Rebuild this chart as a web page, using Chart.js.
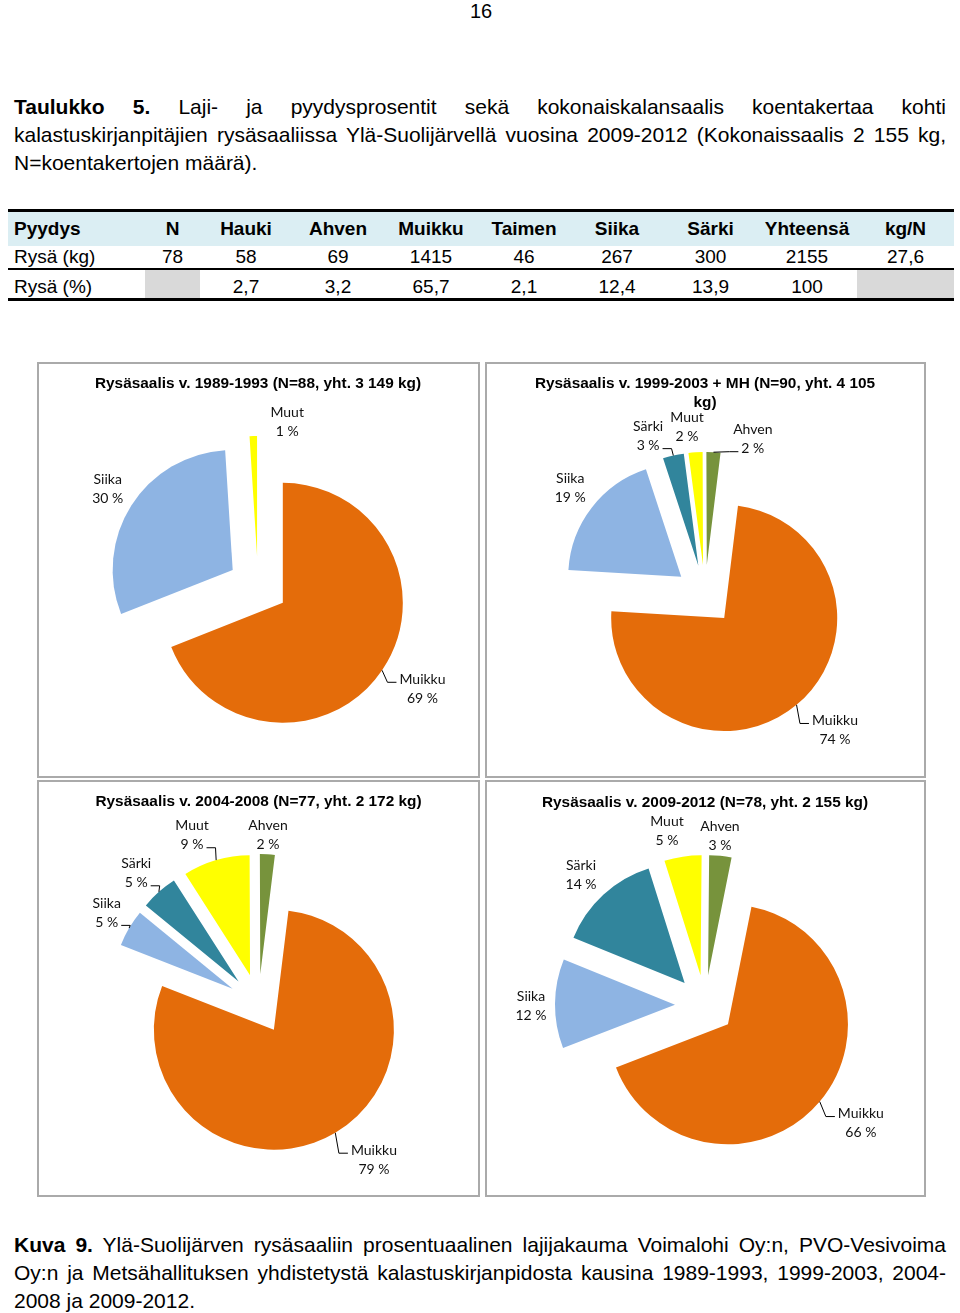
<!DOCTYPE html>
<html lang="fi">
<head>
<meta charset="utf-8">
<title>Kuva 9</title>
<script src="https://cdn.jsdelivr.net/npm/chart.js@4.4.1/dist/chart.umd.min.js"></script>
<style>
  body { margin: 0; background: #fff; }
  #page { position: relative; width: 960px; height: 1313px; overflow: hidden; font-family: "Liberation Sans", Arial, sans-serif; color: #000; }
  .pnum { position: absolute; left: 0; top: 0; width: 962px; text-align: center; font-size: 20px; line-height: 22px; }
  .txt { position: absolute; left: 14px; width: 932px; font-size: 21px; line-height: 28px; text-align: justify; }
  .rule { position: absolute; left: 8px; width: 946px; background: #000; }
  .row { position: absolute; left: 8px; width: 946px; display: flex; font-size: 19px; }
  .row div { text-align: center; box-sizing: border-box; }
  .row div:first-child { text-align: left; padding-left: 6px; }
  .head { background: #dbeef3; font-weight: bold; }
  .grey { background: #d9d9d9; }
  .panel { position: absolute; border: 2px solid #aaa; box-sizing: border-box; }
  canvas { position: absolute; }
</style>
</head>
<body>
<div id="page">
  <div class="pnum">16</div>
  <div class="txt" style="top:93px"><b>Taulukko 5.</b> Laji- ja pyydysprosentit sekä kokonaiskalansaalis koentakertaa kohti kalastuskirjanpitäjien rysäsaaliissa Ylä-Suolijärvellä vuosina 2009-2012 (Kokonaissaalis 2 155 kg, N=koentakertojen määrä).</div>
  <div id="table"></div>

  <div class="panel" style="left:37px;top:362px;width:443px;height:416px"></div>
  <div class="panel" style="left:485px;top:362px;width:441px;height:416px"></div>
  <div class="panel" style="left:37px;top:780px;width:443px;height:417px"></div>
  <div class="panel" style="left:485px;top:780px;width:441px;height:417px"></div>
  <canvas id="c1" width="439" height="412" style="left:39px;top:364px"></canvas>
  <canvas id="c2" width="437" height="412" style="left:487px;top:364px"></canvas>
  <canvas id="c3" width="439" height="413" style="left:39px;top:782px"></canvas>
  <canvas id="c4" width="437" height="413" style="left:487px;top:782px"></canvas>

  <div class="txt" style="top:1231px"><b>Kuva 9.</b> Ylä-Suolijärven rysäsaaliin prosentuaalinen lajijakauma Voimalohi Oy:n, PVO-Vesivoima Oy:n ja Metsähallituksen yhdistetystä kalastuskirjanpidosta kausina 1989-1993, 1999-2003, 2004-2008 ja 2009-2012.</div>
</div>

<script>
// taulukko 5
const tableHead = ['Pyydys', 'N', 'Hauki', 'Ahven', 'Muikku', 'Taimen', 'Siika', 'Särki', 'Yhteensä', 'kg/N'];
const rowKg = ['Rysä (kg)', '78', '58', '69', '1415', '46', '267', '300', '2155', '27,6'];
const rowPct = ['Rysä (%)', '', '2,7', '3,2', '65,7', '2,1', '12,4', '13,9', '100', ''];

// piirakat
const categories = ['Muikku', 'Siika', 'Särki', 'Muut', 'Ahven'];
const share1989 = [69, 30, 0, 1, 0];
const share1999 = [74, 19, 3, 2, 2];
const share2004 = [79, 5, 5, 9, 2];
const share2009 = [66, 12, 14, 5, 3];

const title1989 = 'Rysäsaalis v. 1989-1993 (N=88, yht. 3 149 kg)';
const title1999 = ['Rysäsaalis v. 1999-2003 + MH (N=90, yht. 4 105', 'kg)'];
const title2004 = 'Rysäsaalis v. 2004-2008 (N=77, yht. 2 172 kg)';
const title2009 = 'Rysäsaalis v. 2009-2012 (N=78, yht. 2 155 kg)';

const sliceColors = ['#e46c0a', '#8eb4e3', '#31859c', '#ffff00', '#77933c'];

// --- table ---
const colW = [137, 55, 92, 92, 94, 92, 94, 93, 100, 97];
const tbl = document.getElementById('table');
function addRule(top, h) {
  const r = document.createElement('div');
  r.className = 'rule';
  r.style.top = top + 'px';
  r.style.height = h + 'px';
  tbl.appendChild(r);
}
function addRow(cells, top, h, cls, pt) {
  const row = document.createElement('div');
  row.className = 'row' + (cls ? ' ' + cls : '');
  row.style.top = top + 'px';
  row.style.height = h + 'px';
  cells.forEach((c, i) => {
    const d = document.createElement('div');
    d.style.width = colW[i] + 'px';
    d.style.height = h + 'px';
    d.style.lineHeight = (h - pt) + 'px';
    d.style.paddingTop = pt + 'px';
    if (cls !== 'head' && c === '' && i > 0) d.className = 'grey';
    d.textContent = c;
    row.appendChild(d);
  });
  tbl.appendChild(row);
}
addRule(209, 3);
addRow(tableHead, 212, 34, 'head', 0);
addRow(rowKg, 246, 22, '', 0);
addRule(268, 2);
addRow(rowPct, 270, 28, '', 6);
addRule(298, 3);

// --- pies ---
const explodePlugin = {
  id: 'explode',
  afterDatasetUpdate(chart, args, opts) {
    const d = opts.distance || 0;
    args.meta.data.forEach(arc => {
      const mid = (arc.startAngle + arc.endAngle) / 2;
      arc.x += Math.cos(mid) * d;
      arc.y += Math.sin(mid) * d;
    });
  }
};

const pieLabels = {
  id: 'pieLabels',
  afterDatasetsDraw(chart, args, opts) {
    const ctx = chart.ctx;
    const meta = chart.getDatasetMeta(0);
    const values = chart.data.datasets[0].data;
    const half = opts.lineGap / 2;
    ctx.save();
    ctx.font = '14px Lato, "Open Sans", sans-serif';
    ctx.fillStyle = '#111';
    ctx.strokeStyle = '#000';
    ctx.lineWidth = 1;
    ctx.textAlign = 'center';
    ctx.textBaseline = 'middle';
    meta.data.forEach((arc, i) => {
      if (!values[i]) return;
      const mid = (arc.startAngle + arc.endAngle) / 2;
      const a = mid + opts.turn[i] * Math.PI / 180;
      const cx = arc.x + Math.cos(a) * opts.dist[i];
      const cy = arc.y + Math.sin(a) * opts.dist[i];
      const lines = [chart.data.labels[i], values[i] + ' %'];
      ctx.fillText(lines[0], cx, cy - half);
      ctx.fillText(lines[1], cx, cy + half);
      if (opts.leader[i]) {
        const px = arc.x + Math.cos(mid) * arc.outerRadius;
        const py = arc.y + Math.sin(mid) * arc.outerRadius;
        const li = py < cy ? 0 : 1;
        const qy = cy + (li ? half : -half) + 3;
        const w = ctx.measureText(lines[li]).width;
        const side = px < cx ? -1 : 1;
        const qx = cx + side * (w / 2 + 3);
        ctx.beginPath();
        ctx.moveTo(px, py);
        ctx.lineTo(qx + side * 9, qy);
        ctx.lineTo(qx, qy);
        ctx.stroke();
      }
    });
    ctx.restore();
  }
};

// the chart area is as wide as the canvas, its height sets the radius
const panels = [
  { id: 'c1', values: share1989, title: title1989, rotation: 0,
    pad: { left: 0, right: 1, bottom: 70 }, titlePad: { top: 11, bottom: 72.5 },
    labelDist: [164, 149, 0, 137, 0], labelTurn: [-2.6, 0.6, 0, 14.5, 0], leader: [1, 0, 0, 0, 0] },
  { id: 'c2', values: share1999, title: title1999, rotation: 7,
    pad: { left: 0, right: 1, bottom: 68 }, titlePad: { top: 11, bottom: 70 },
    labelDist: [157.5, 142, 139, 139, 134], labelTurn: [-4.9, 1, -8.4, -2.8, 16.7], leader: [1, 0, 1, 0, 1] },
  { id: 'c3', values: share2004, title: title2004, rotation: 7,
    pad: { left: 0, right: 0, bottom: 71 }, titlePad: { top: 11, bottom: 72.5 },
    labelDist: [164, 147, 149, 151.5, 139], labelTurn: [-6.8, 0.7, -1.8, -6.1, -0.2], leader: [1, 1, 1, 1, 0] },
  { id: 'c4', values: share2009, title: title2009, rotation: 11.3,
    pad: { left: 0, right: 1, bottom: 70 }, titlePad: { top: 12, bottom: 72.5 },
    labelDist: [165.6, 144, 149.7, 148.2, 139.5], labelTurn: [-3.5, -1, -1.1, -4.6, -1], leader: [1, 0, 0, 0, 0] }
];

panels.forEach(p => {
  new Chart(document.getElementById(p.id), {
    type: 'pie',
    data: {
      labels: categories,
      datasets: [{ data: p.values, backgroundColor: sliceColors, borderWidth: 0, clip: false }]
    },
    options: {
      responsive: false,
      animation: false,
      events: [],
      rotation: p.rotation,
      layout: { padding: { top: 0, left: p.pad.left, right: p.pad.right, bottom: p.pad.bottom } },
      plugins: {
        legend: { display: false },
        tooltip: { enabled: false },
        title: {
          display: true,
          text: p.title,
          color: '#000',
          font: { family: '"Liberation Sans", Arial, sans-serif', size: 15.4, weight: 'bold', lineHeight: 1.2 },
          padding: p.titlePad
        },
        explode: { distance: 30 },
        pieLabels: { dist: p.labelDist, turn: p.labelTurn, leader: p.leader, lineGap: 19 }
      }
    },
    plugins: [explodePlugin, pieLabels]
  });
});
</script>
</body>
</html>
